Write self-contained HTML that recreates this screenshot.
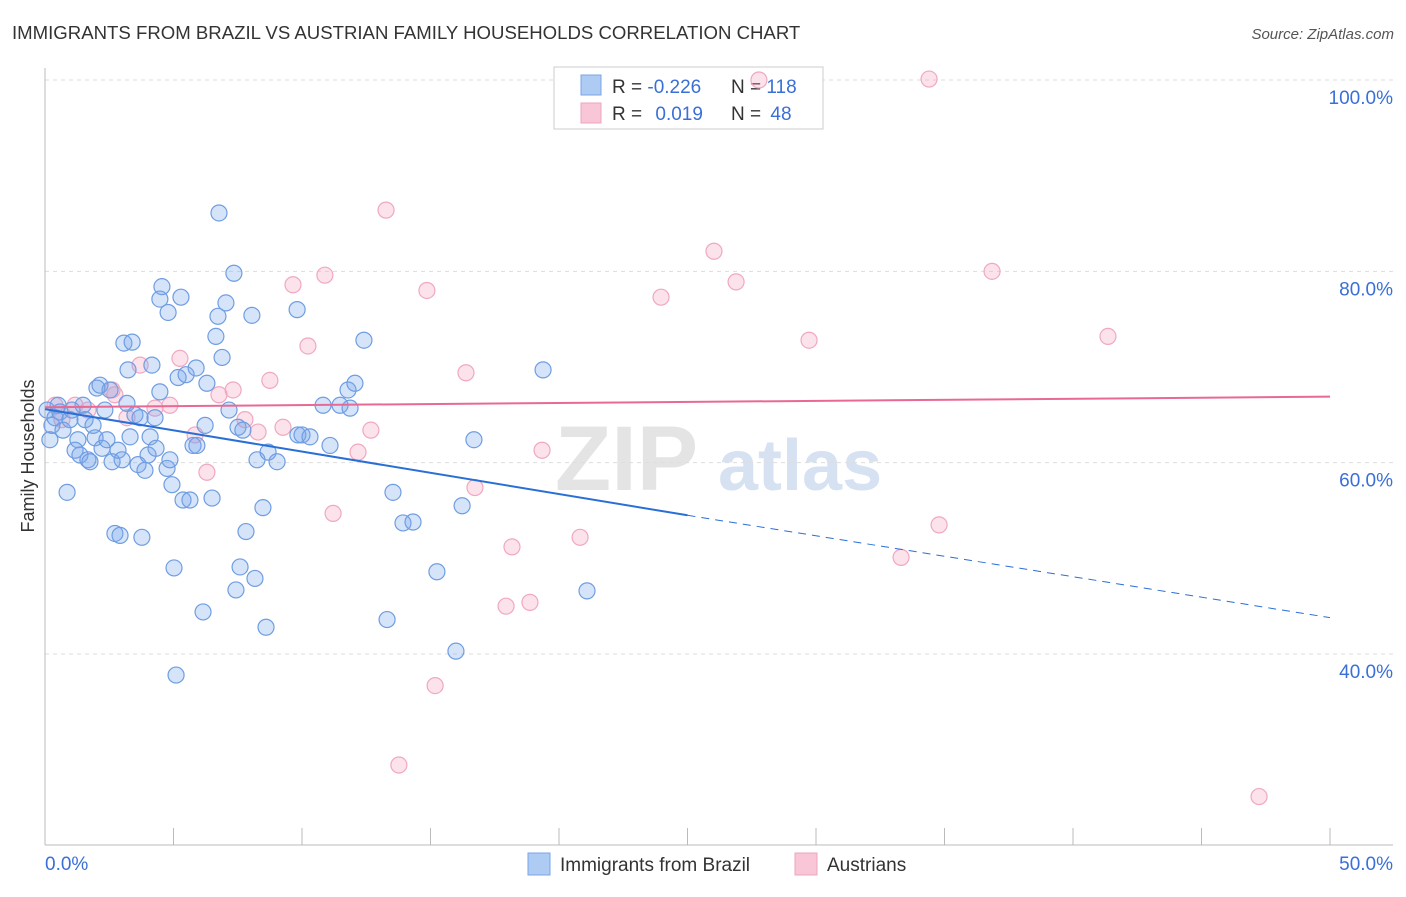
<!DOCTYPE html>
<html><head><meta charset="utf-8"><style>
body{margin:0;background:#fff;font-family:"Liberation Sans",sans-serif;}
svg text{font-family:"Liberation Sans",sans-serif;}
</style></head><body>
<svg id="chart" width="1406" height="892">
<text x="12" y="39" font-size="18.6" fill="#333">IMMIGRANTS FROM BRAZIL VS AUSTRIAN FAMILY HOUSEHOLDS CORRELATION CHART</text>
<text x="1394" y="39" font-size="15" fill="#555" font-style="italic" text-anchor="end">Source: ZipAtlas.com</text>
<g>
<text x="555" y="490" font-size="92" fill="#e4e4e4" font-family="Liberation Serif" font-weight="bold">ZIP</text>
<text x="718" y="490" font-size="72" fill="#d6e2f2" font-weight="bold">atlas</text>
</g>
<g id="grid"></g>
<g id="axes"></g>
<g>
<rect x="554" y="67" width="269" height="62" fill="#fff" stroke="#ccc"/>
<rect x="581" y="75" width="20" height="20" fill="#aecbf4" stroke="#7aa4e4"/>
<rect x="581" y="103" width="20" height="20" fill="#f8c6d6" stroke="#eea4bc"/>
<text x="612" y="93" font-size="19" fill="#333">R = <tspan fill="#3a6fd8">-0.226</tspan></text>
<text x="731" y="93" font-size="19" fill="#333">N = <tspan fill="#3a6fd8">118</tspan></text>
<text x="612" y="120" font-size="19" fill="#333">R = <tspan fill="#3a6fd8" dx="8">0.019</tspan></text>
<text x="731" y="120" font-size="19" fill="#333">N = <tspan fill="#3a6fd8" dx="4">48</tspan></text>
</g>
<g id="marks"></g>
<text x="0" y="0" transform="translate(34,456) rotate(-90)" font-size="18" fill="#333" text-anchor="middle">Family Households</text>
<g>
<rect x="528" y="853" width="22" height="22" fill="#aecbf4" stroke="#7aa4e4"/>
<text x="560" y="871" font-size="19" fill="#333">Immigrants from Brazil</text>
<rect x="795" y="853" width="22" height="22" fill="#f8c6d6" stroke="#eea4bc"/>
<text x="827" y="871" font-size="19" fill="#333">Austrians</text>
</g>
</svg>
<script>
const yTicks=[40,60,80,100];
const yTickLabels=["40.0%","60.0%","80.0%","100.0%"];
const xTicks=[0,5,10,15,20,25,30,35,40,45,50];
const xEndLabels=["0.0%","50.0%"];
const brazilX=[0.08,0.19,0.27,0.39,0.51,0.58,0.70,0.86,0.97,1.05,1.17,1.28,1.36,1.48,1.56,1.67,1.75,1.87,1.95,2.02,2.14,2.22,2.33,2.41,2.53,2.61,2.72,2.84,2.92,3.00,3.07,3.19,3.23,3.39,3.31,3.50,3.62,3.70,3.77,3.89,4.01,4.09,4.16,4.28,4.32,4.47,4.55,4.47,4.75,4.86,4.79,4.94,5.02,5.10,5.18,5.29,5.37,5.49,5.64,5.76,5.91,5.88,6.15,6.23,6.30,6.50,6.65,6.73,6.77,6.89,7.04,7.16,7.35,7.43,7.51,7.59,7.70,7.82,8.05,8.17,8.25,8.48,8.60,8.68,9.03,9.81,9.84,10.0,10.31,10.82,11.09,11.48,11.79,11.87,12.06,12.41,13.31,13.54,13.93,14.32,15.25,15.99,16.23,16.69,19.38,21.09];
const brazilY=[65.5,62.4,63.9,64.7,66.0,65.3,63.4,56.9,64.5,65.5,61.3,62.4,60.8,66.0,64.5,60.3,60.1,63.9,62.6,67.8,68.1,61.5,65.5,62.4,67.6,60.1,52.6,61.3,52.4,60.3,72.5,66.2,69.7,72.6,62.7,65.0,59.8,64.7,52.2,59.2,60.8,62.7,70.2,64.7,61.5,67.4,78.4,77.1,59.4,60.3,75.7,57.7,49.0,37.8,68.9,77.3,56.1,69.2,56.1,61.8,61.8,69.9,44.4,63.9,68.3,56.3,73.2,75.3,86.1,71.0,76.7,65.5,79.8,46.7,63.7,49.1,63.4,52.8,75.4,47.9,60.3,55.3,42.8,61.1,60.1,76.0,62.9,62.9,62.7,66.0,61.8,66.0,67.6,65.7,68.3,72.8,43.6,56.9,53.7,53.8,48.6,40.3,55.5,62.4,69.7,46.6];
const austX=[0.39,0.66,1.17,1.67,2.61,2.72,3.19,3.70,4.28,4.86,5.25,5.84,6.30,6.77,7.32,7.78,8.29,8.75,9.26,9.65,10.23,10.89,11.21,12.18,12.68,13.27,13.77,14.86,15.18,16.38,16.73,17.94,18.17,18.87,19.34,20.82,23.97,26.03,26.89,27.78,29.73,33.31,34.40,34.79,36.85,41.36,47.24];
const austY=[66.0,64.5,66.0,65.5,67.6,67.1,64.7,70.2,65.7,66.0,70.9,62.9,59.0,67.1,67.6,64.5,63.2,68.6,63.7,78.6,72.2,79.6,54.7,61.1,63.4,86.4,28.4,78.0,36.7,69.4,57.4,45.0,51.2,45.4,61.3,52.2,77.3,82.1,78.9,100.0,72.8,50.1,100.1,53.5,80.0,73.2,25.1];
const brazilTrend=[65.6,54.5,43.8]; // at x=0,25,50
const austTrend=[65.8,66.9]; // at x=0,50

const NS="http://www.w3.org/2000/svg";
const X=v=>45+v*25.7;
const Y=v=>80+(100-v)*9.567;
function mk(tag,attrs,parent){const e=document.createElementNS(NS,tag);for(const k in attrs)e.setAttribute(k,attrs[k]);parent.appendChild(e);return e;}
const grid=document.getElementById('grid'),axes=document.getElementById('axes'),marks=document.getElementById('marks');
yTicks.forEach((t,i)=>{
  const l=mk('line',{x1:45,x2:1393,y1:Y(t),y2:Y(t),stroke:'#ddd','stroke-dasharray':'4,4'},grid);
  
  
  const tx=mk('text',{x:1393,y:Y(t)+24,'font-size':19,fill:'#3a6fd8','text-anchor':'end'},axes);
  tx.textContent=yTickLabels[i];
  
  
});
let a=mk('line',{x1:45,x2:45,y1:68,y2:845,stroke:'#bbb'},axes);


a=mk('line',{x1:45,x2:1393,y1:845,y2:845,stroke:'#bbb'},axes);


xTicks.forEach(t=>{
  const l=mk('line',{x1:X(t),x2:X(t),y1:828,y2:845,stroke:'#bbb'},axes);
  
  
});
[0,50].forEach((t,i)=>{
  const tx=mk('text',{x:i?1393:45,y:870,'font-size':19,fill:'#3a6fd8','text-anchor':i?'end':'start'},axes);
  tx.textContent=xEndLabels[i];
  
  
});
austX.forEach((v,i)=>{
  const c=mk('circle',{cx:X(v),cy:Y(austY[i]),r:8,fill:'rgba(244,160,188,0.3)',stroke:'#f0a8c0','stroke-width':1.2},marks);
  
  
});
brazilX.forEach((v,i)=>{
  const c=mk('circle',{cx:X(v),cy:Y(brazilY[i]),r:8,fill:'rgba(120,165,235,0.3)',stroke:'#6f9de2','stroke-width':1.2},marks);
  
  
});
let t=mk('line',{x1:X(0),y1:Y(brazilTrend[0]),x2:X(25),y2:Y(brazilTrend[1]),stroke:'#2a6fd6','stroke-width':2},marks);


t=mk('line',{x1:X(25),y1:Y(brazilTrend[1]),x2:X(50),y2:Y(brazilTrend[2]),stroke:'#2a6fd6','stroke-width':1,'stroke-dasharray':'8,6'},marks);


t=mk('line',{x1:X(0),y1:Y(austTrend[0]),x2:X(50),y2:Y(austTrend[1]),stroke:'#e86a94','stroke-width':2},marks);


</script>
</body></html>
